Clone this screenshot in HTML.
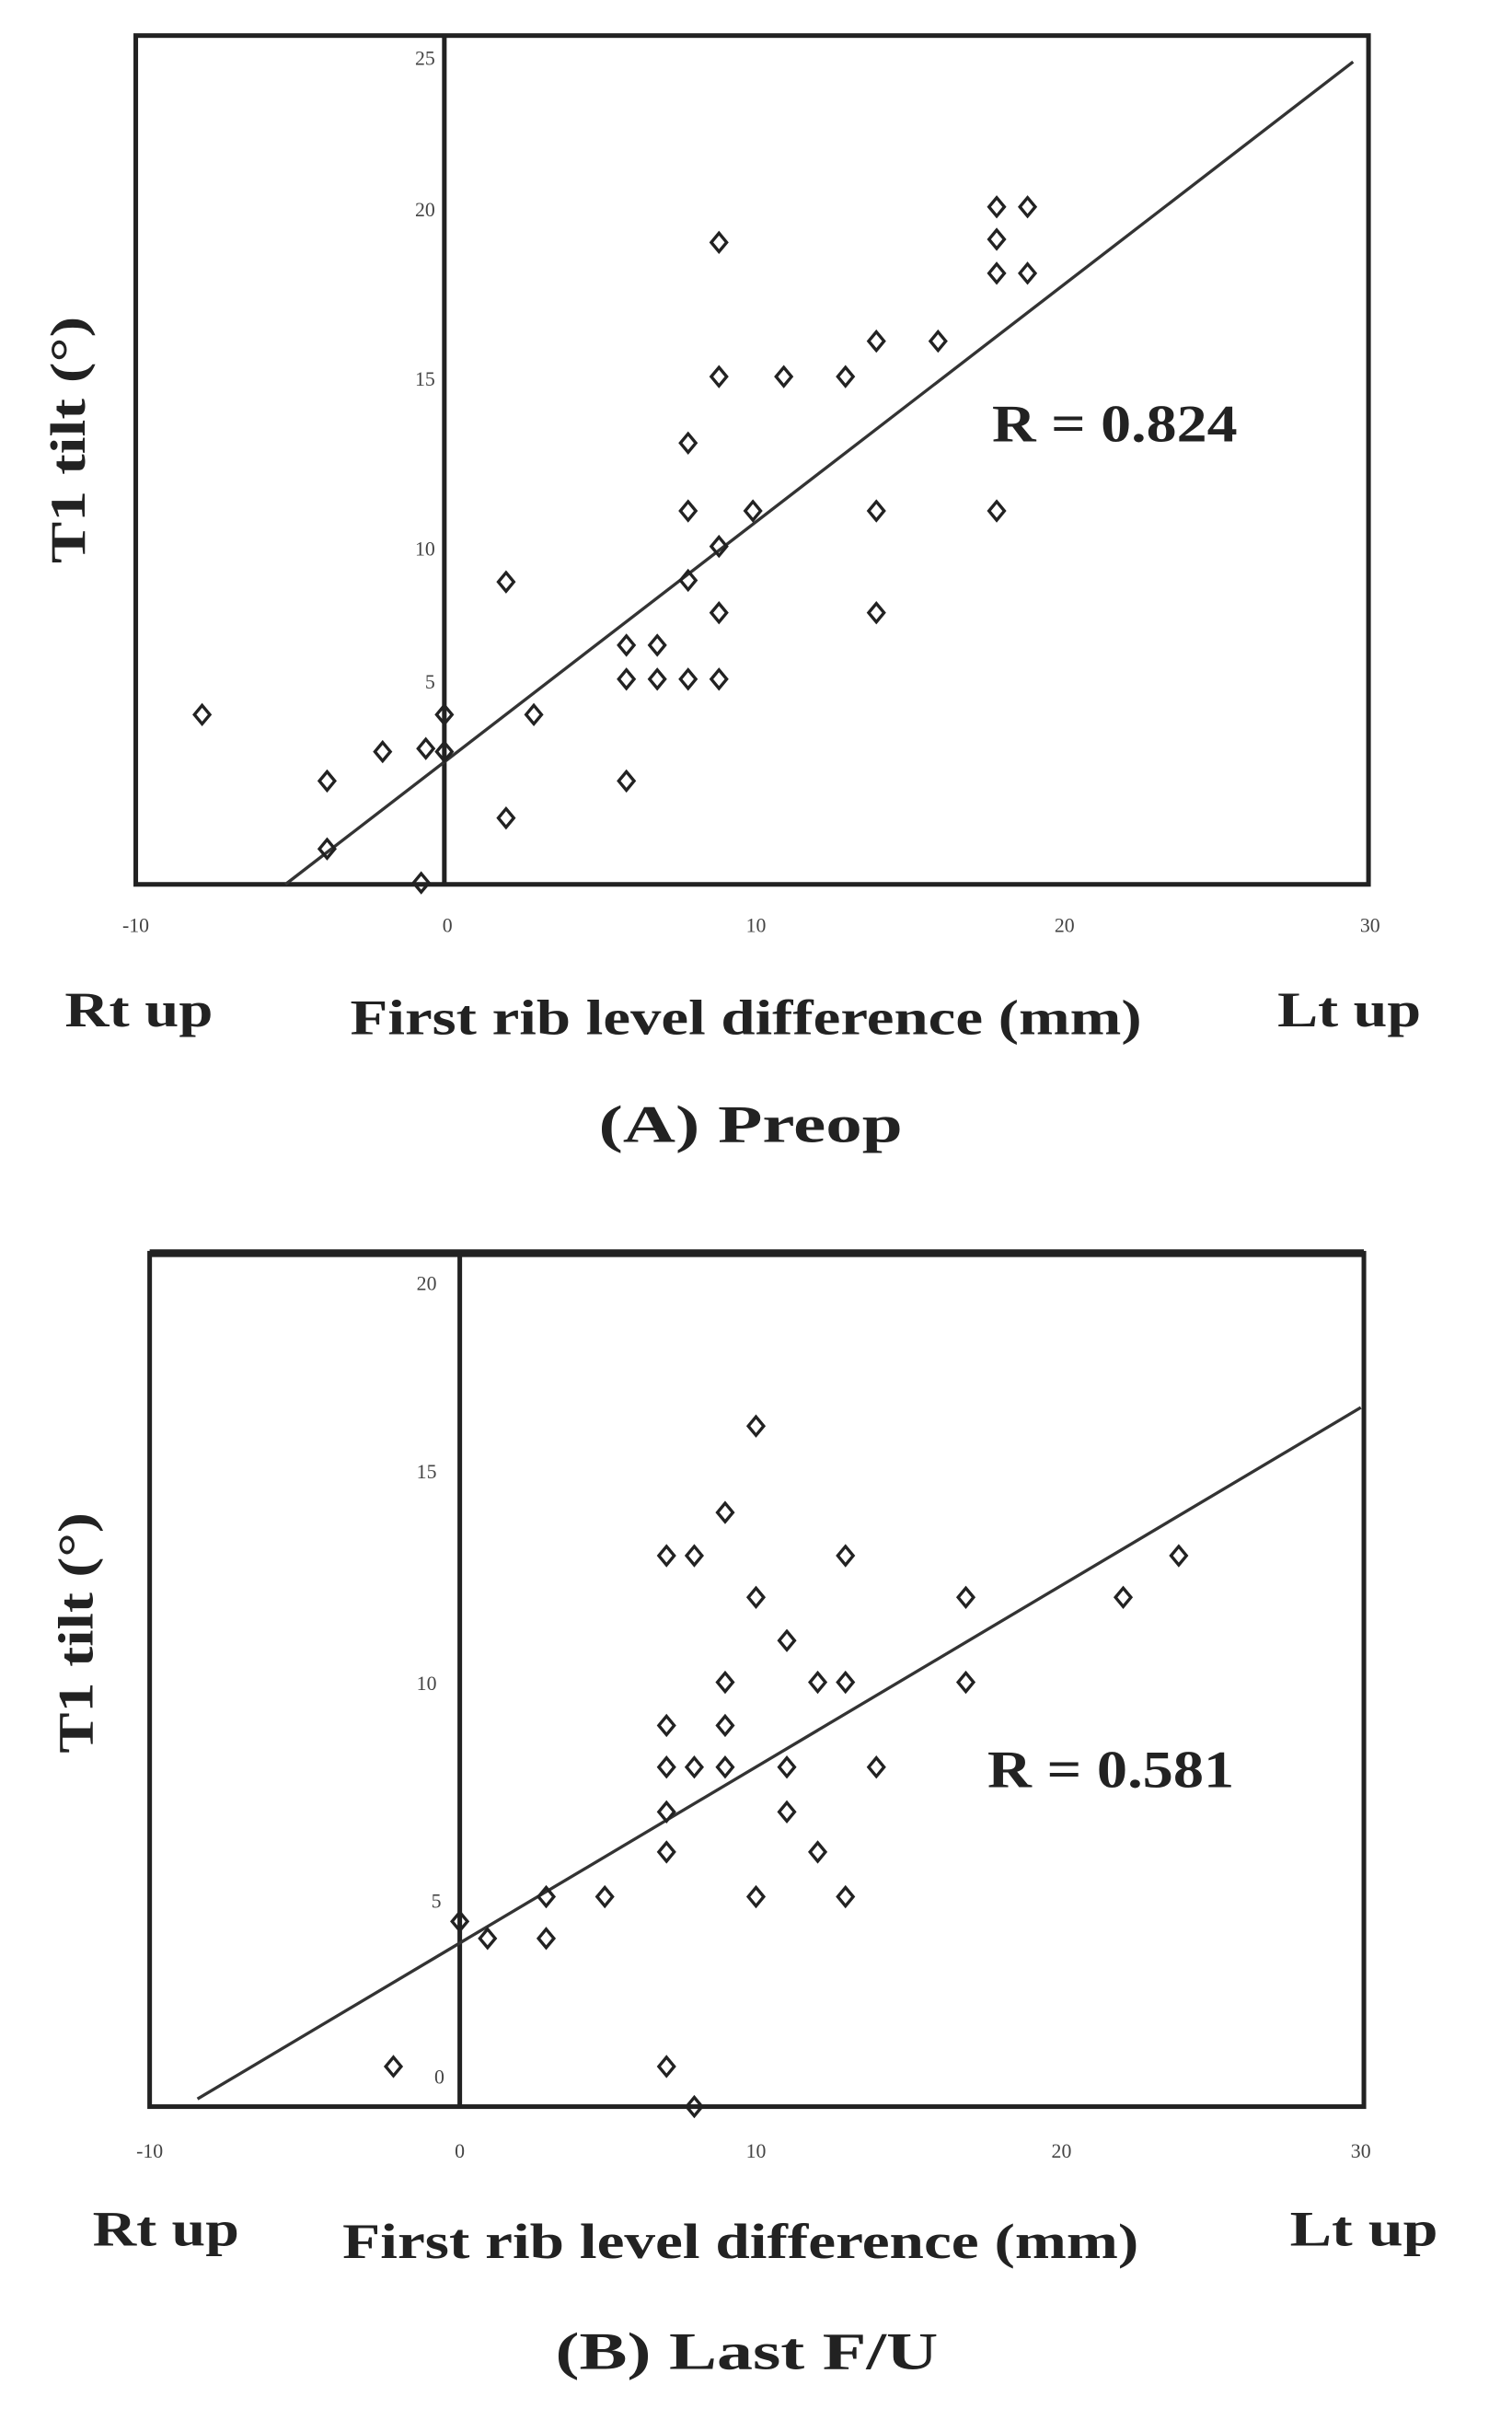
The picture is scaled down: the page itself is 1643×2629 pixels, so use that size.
<!DOCTYPE html>
<html><head><style>html,body{margin:0;padding:0;background:#fff}svg{display:block}</style></head>
<body>
<svg width="1643" height="2629" viewBox="0 0 980 1568" xmlns="http://www.w3.org/2000/svg" font-family="Liberation Serif, serif">
<defs><path id="d" d="M0,-6 L5,0 L0,6 L-5,0 Z" fill="none" stroke="#222" stroke-width="2"/></defs>
<!-- Chart A -->
<rect x="88" y="23" width="799" height="550" fill="none" stroke="#222" stroke-width="3"/>
<line x1="288" y1="23" x2="288" y2="573" stroke="#222" stroke-width="3"/>
<line x1="185" y1="573" x2="877" y2="40" stroke="#333" stroke-width="2"/>
<g font-size="13" fill="#444" text-anchor="end">
<text x="282" y="42">25</text><text x="282" y="140">20</text><text x="282" y="250">15</text><text x="282" y="360">10</text><text x="282" y="446">5</text>
</g>
<g font-size="13" fill="#444" text-anchor="middle">
<text x="88" y="604">-10</text><text x="290" y="604">0</text><text x="490" y="604">10</text><text x="690" y="604">20</text><text x="888" y="604">30</text>
</g>
<g>
<use href="#d" x="131" y="463"/><use href="#d" x="212" y="506"/><use href="#d" x="248" y="487"/><use href="#d" x="276" y="485"/><use href="#d" x="288" y="487"/><use href="#d" x="212" y="550"/><use href="#d" x="273" y="572"/><use href="#d" x="288" y="463"/><use href="#d" x="328" y="530"/><use href="#d" x="328" y="377"/><use href="#d" x="346" y="463"/><use href="#d" x="406" y="506"/><use href="#d" x="406" y="418"/><use href="#d" x="426" y="418"/><use href="#d" x="406" y="440"/><use href="#d" x="426" y="440"/><use href="#d" x="446" y="440"/><use href="#d" x="466" y="440"/><use href="#d" x="446" y="376"/><use href="#d" x="446" y="331"/><use href="#d" x="446" y="287"/><use href="#d" x="466" y="397"/><use href="#d" x="466" y="354"/><use href="#d" x="466" y="244"/><use href="#d" x="466" y="157"/><use href="#d" x="488" y="331"/><use href="#d" x="508" y="244"/><use href="#d" x="548" y="244"/><use href="#d" x="568" y="221"/><use href="#d" x="568" y="331"/><use href="#d" x="568" y="397"/><use href="#d" x="608" y="221"/><use href="#d" x="646" y="134"/><use href="#d" x="666" y="134"/><use href="#d" x="646" y="155"/><use href="#d" x="646" y="177"/><use href="#d" x="666" y="177"/><use href="#d" x="646" y="331"/>
</g>
<g font-weight="bold" fill="#222" lengthAdjust="spacingAndGlyphs">
<text x="643" y="286" font-size="34" textLength="159" lengthAdjust="spacingAndGlyphs">R = 0.824</text>
<text transform="translate(55,285) rotate(-90)" font-size="32" text-anchor="middle" textLength="160" lengthAdjust="spacingAndGlyphs">T1 tilt (°)</text>
<text x="42" y="665" font-size="32" textLength="96" lengthAdjust="spacingAndGlyphs">Rt up</text>
<text x="227" y="670" font-size="32" textLength="513" lengthAdjust="spacingAndGlyphs">First rib level difference (mm)</text>
<text x="828" y="665" font-size="32" textLength="93" lengthAdjust="spacingAndGlyphs">Lt up</text>
<text x="388" y="740" font-size="34" textLength="197" lengthAdjust="spacingAndGlyphs">(A) Preop</text>
</g>
<!-- Chart B -->
<rect x="97" y="812" width="787" height="553" fill="none" stroke="#222" stroke-width="3"/>
<line x1="97" y1="812" x2="884" y2="812" stroke="#222" stroke-width="5"/>
<line x1="298" y1="812" x2="298" y2="1365" stroke="#222" stroke-width="3"/>
<line x1="128" y1="1360" x2="882" y2="912" stroke="#333" stroke-width="2"/>
<g font-size="13" fill="#444" text-anchor="end">
<text x="283" y="836">20</text><text x="283" y="958">15</text><text x="283" y="1095">10</text><text x="286" y="1236">5</text><text x="288" y="1350">0</text>
</g>
<g font-size="13" fill="#444" text-anchor="middle">
<text x="97" y="1398">-10</text><text x="298" y="1398">0</text><text x="490" y="1398">10</text><text x="688" y="1398">20</text><text x="882" y="1398">30</text>
</g>
<g>
<use href="#d" x="255" y="1339"/><use href="#d" x="298" y="1245"/><use href="#d" x="316" y="1256"/><use href="#d" x="354" y="1229"/><use href="#d" x="354" y="1256"/><use href="#d" x="392" y="1229"/><use href="#d" x="432" y="1339"/><use href="#d" x="450" y="1365"/><use href="#d" x="432" y="1200"/><use href="#d" x="432" y="1174"/><use href="#d" x="432" y="1145"/><use href="#d" x="432" y="1118"/><use href="#d" x="432" y="1008"/><use href="#d" x="450" y="1008"/><use href="#d" x="450" y="1145"/><use href="#d" x="470" y="1145"/><use href="#d" x="470" y="1118"/><use href="#d" x="470" y="1090"/><use href="#d" x="470" y="980"/><use href="#d" x="490" y="924"/><use href="#d" x="490" y="1035"/><use href="#d" x="490" y="1229"/><use href="#d" x="510" y="1063"/><use href="#d" x="510" y="1145"/><use href="#d" x="510" y="1174"/><use href="#d" x="530" y="1090"/><use href="#d" x="530" y="1200"/><use href="#d" x="548" y="1090"/><use href="#d" x="548" y="1008"/><use href="#d" x="548" y="1229"/><use href="#d" x="568" y="1145"/><use href="#d" x="626" y="1035"/><use href="#d" x="626" y="1090"/><use href="#d" x="728" y="1035"/><use href="#d" x="764" y="1008"/>
</g>
<g font-weight="bold" fill="#222">
<text x="640" y="1158" font-size="34" textLength="160" lengthAdjust="spacingAndGlyphs">R = 0.581</text>
<text transform="translate(60,1058) rotate(-90)" font-size="32" text-anchor="middle" textLength="156" lengthAdjust="spacingAndGlyphs">T1 tilt (°)</text>
<text x="60" y="1455" font-size="32" textLength="95" lengthAdjust="spacingAndGlyphs">Rt up</text>
<text x="222" y="1463" font-size="32" textLength="516" lengthAdjust="spacingAndGlyphs">First rib level difference (mm)</text>
<text x="836" y="1455" font-size="32" textLength="96" lengthAdjust="spacingAndGlyphs">Lt up</text>
<text x="360" y="1535" font-size="34" textLength="248" lengthAdjust="spacingAndGlyphs">(B) Last F/U</text>
</g>
</svg>
</body></html>
